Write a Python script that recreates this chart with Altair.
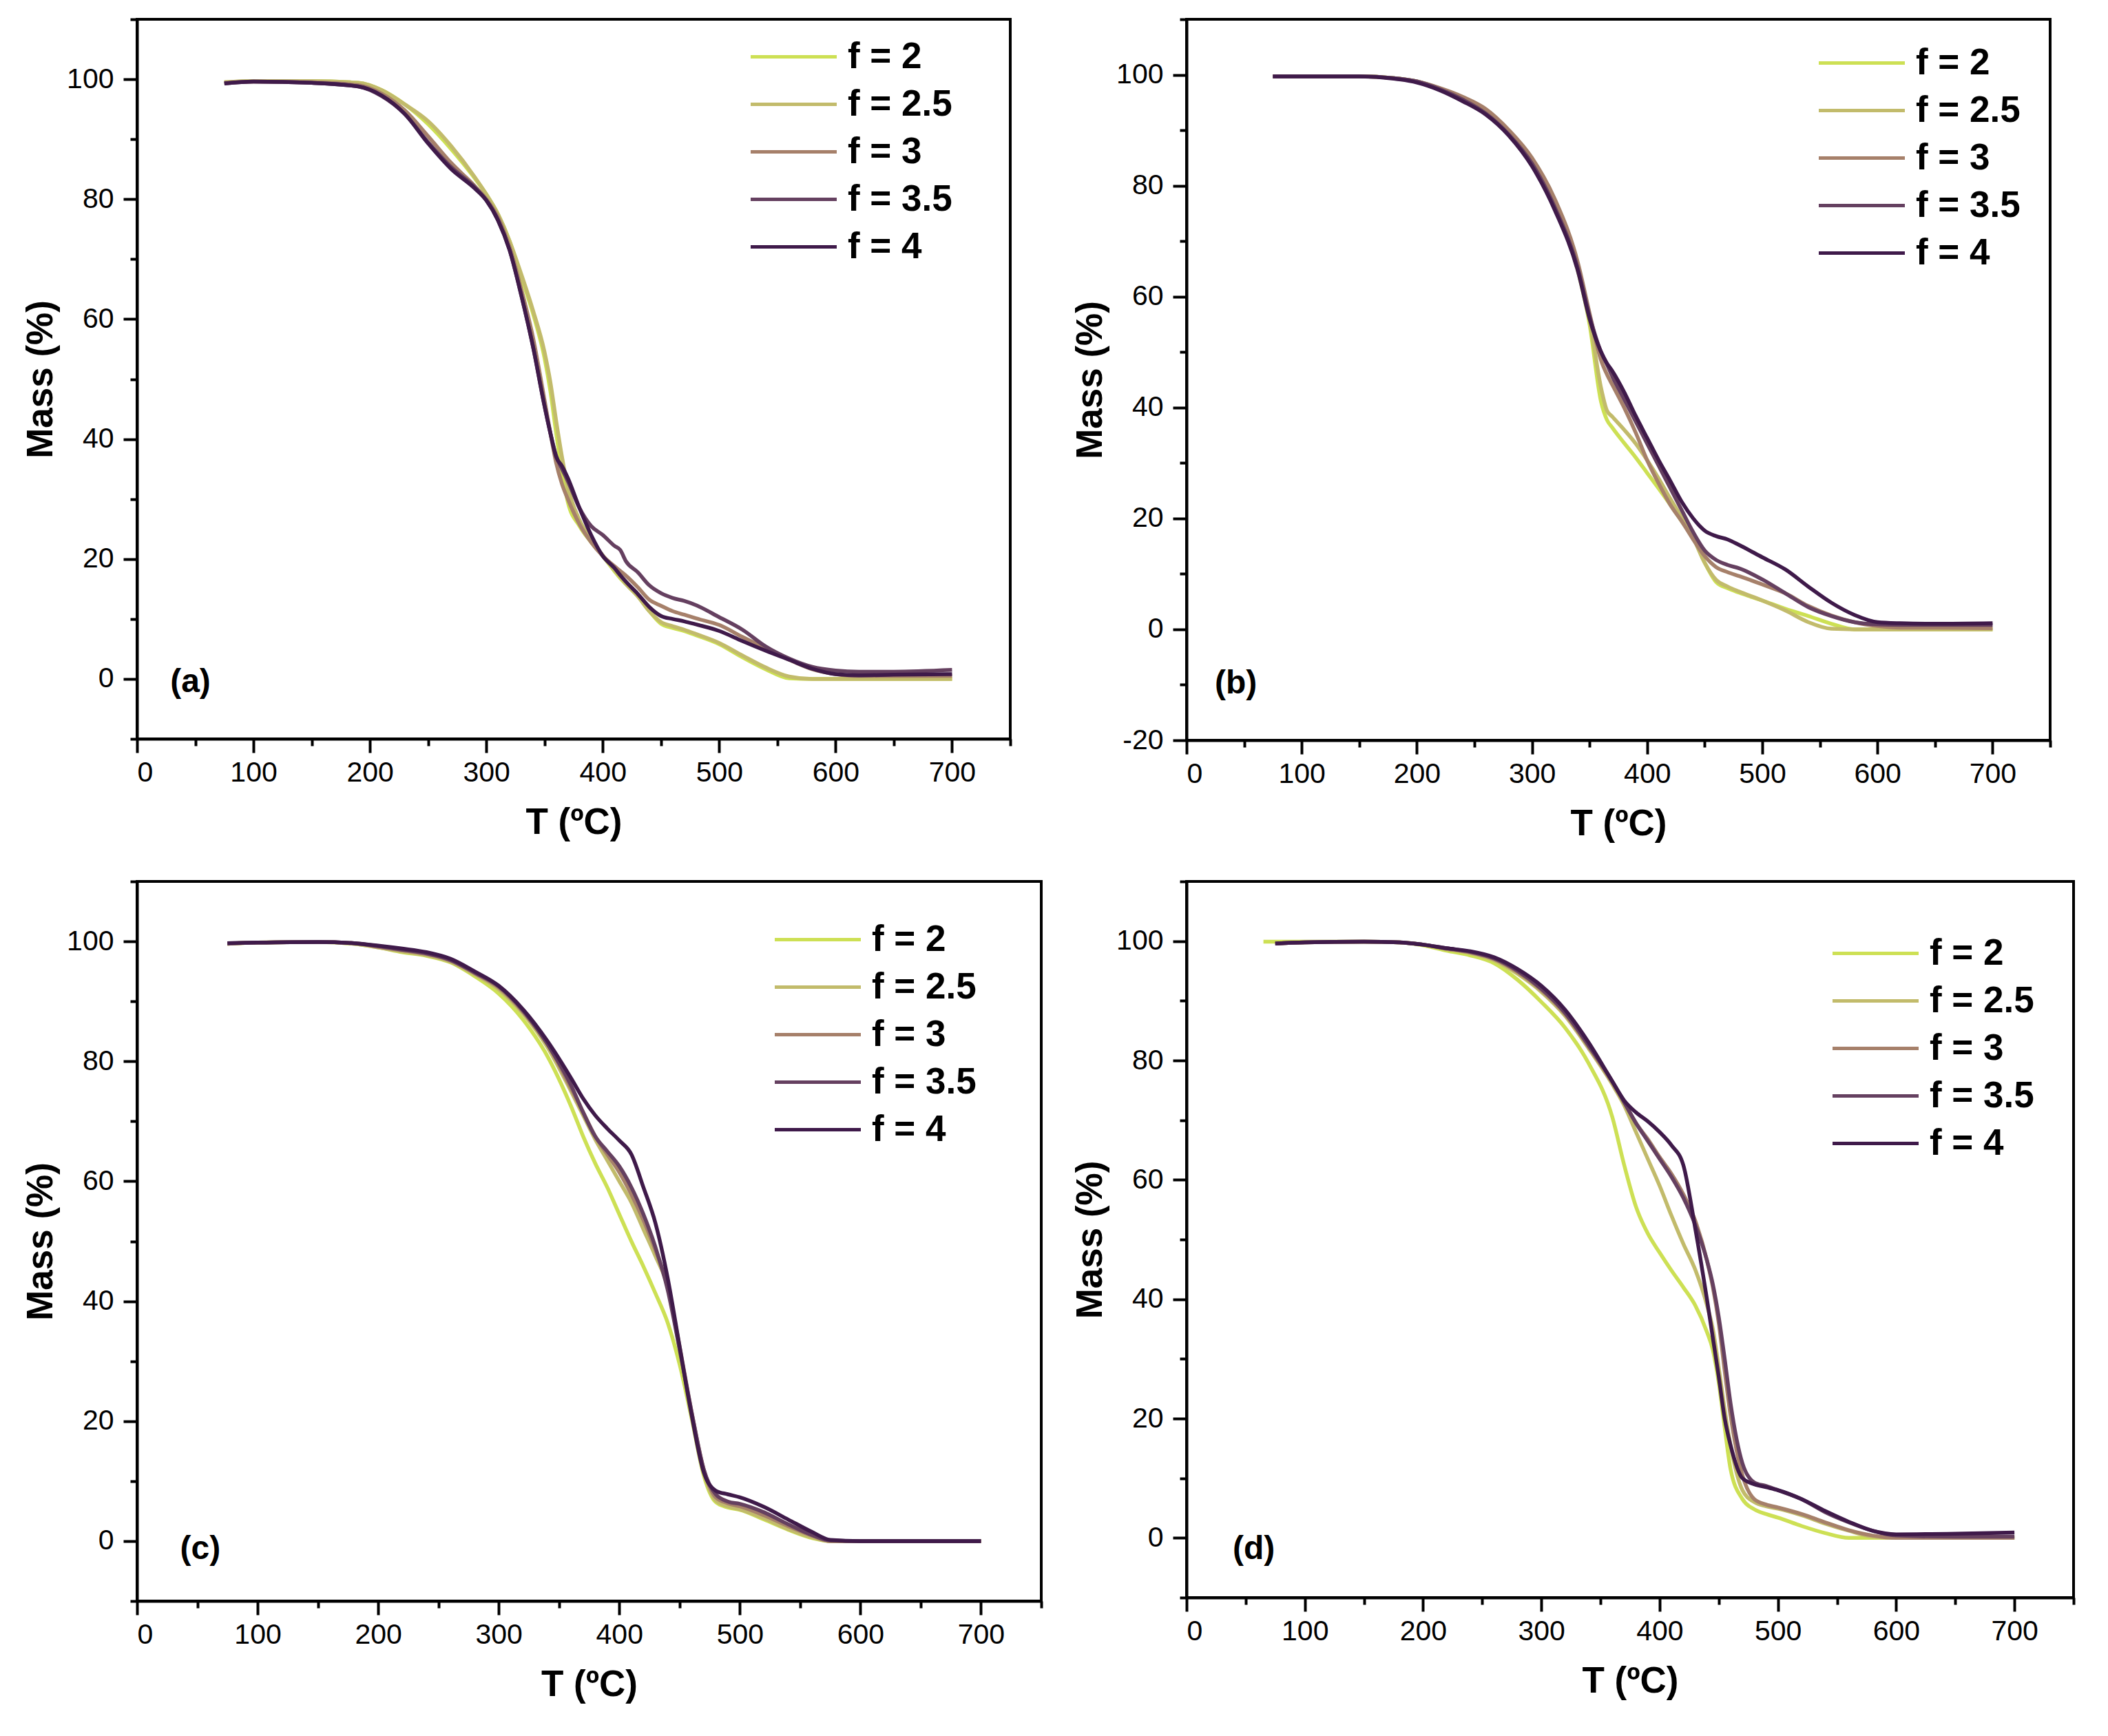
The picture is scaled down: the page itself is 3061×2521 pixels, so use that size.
import altair as alt
import numpy as np
import pandas as pd

# series names and colours (same in every panel)
SERIES = ["f = 2", "f = 2.5", "f = 3", "f = 3.5", "f = 4"]
COLORS = ["#cde054", "#c2bb6b", "#a6806a", "#654060", "#3f1a4a"]
FONT = "Liberation Sans"

# ---- panel (a) ----
T_A = [75, 100, 150, 190, 210, 230, 250, 270, 290, 300, 310, 320, 330, 340, 350, 355, 360, 365, 370,
       380, 390, 400, 410, 415, 420, 430, 440, 450, 460, 470, 480, 500, 520, 540, 560, 580, 600, 620, 650, 700]
A_F2 = [99.5, 99.7, 99.7, 99.4, 98.2, 95.8, 92.5, 88.3, 83.5, 80.8, 77.5, 73.0, 67.0, 61.0, 53.5, 48.0, 41.0, 34.5, 29.5,
        25.5, 22.8, 20.5, 18.0, 16.8, 15.8, 13.8, 11.3, 9.2, 8.5, 8.0, 7.3, 5.8, 3.6, 1.6, 0.1, 0.0, 0.0, 0.0, 0.0, 0.0]
A_F25 = [99.5, 99.7, 99.7, 99.4, 98.2, 95.8, 93.0, 88.8, 83.7, 80.8, 77.5, 73.0, 67.5, 61.5, 54.5, 49.5, 43.0, 37.0, 32.0,
         26.5, 23.2, 20.6, 18.2, 17.0, 15.8, 13.8, 11.3, 9.5, 8.8, 8.2, 7.5, 6.0, 3.9, 1.9, 0.4, 0.0, 0.0, 0.0, 0.0, 0.0]
A_F3 = [99.4, 99.6, 99.5, 99.0, 97.6, 94.8, 90.5, 86.0, 82.2, 80.0, 77.0, 72.0, 65.0, 57.0, 46.5, 41.0, 36.0, 32.5, 30.0,
        25.8, 22.8, 20.5, 18.8, 18.0, 17.2, 15.3, 13.2, 12.2, 11.3, 10.7, 10.1, 9.0, 7.0, 5.1, 3.2, 1.6, 0.8, 0.5, 0.5, 0.5]
A_F35 = [99.3, 99.6, 99.4, 98.8, 97.2, 94.2, 89.5, 85.3, 82.0, 79.8, 76.5, 71.5, 64.0, 55.5, 45.5, 41.0, 37.2, 35.0, 33.0,
         28.5, 25.5, 24.0, 22.2, 21.5, 19.6, 17.8, 15.6, 14.3, 13.5, 13.0, 12.3, 10.3, 8.2, 5.4, 3.4, 2.0, 1.4, 1.2, 1.2, 1.5]
A_F4 = [99.3, 99.6, 99.4, 98.8, 97.3, 94.2, 89.3, 85.0, 81.8, 79.8, 76.5, 71.5, 64.0, 55.5, 45.5, 41.0, 37.0, 35.5, 33.5,
        28.5, 24.0, 20.5, 18.5, 17.3, 16.2, 14.2, 12.0, 10.5, 10.0, 9.6, 9.1, 8.0, 6.3, 4.7, 3.2, 1.7, 0.8, 0.6, 0.7, 0.8]

# ---- panel (b) ----
T_B = [75, 100, 150, 180, 200, 220, 240, 260, 280, 300, 320, 340, 350, 360, 365, 370, 380, 390, 400, 410,
       420, 430, 440, 450, 460, 470, 480, 500, 520, 540, 560, 580, 600, 620, 650, 700]
B_F2 = [99.7, 99.7, 99.7, 99.4, 98.8, 97.5, 95.8, 93.5, 89.5, 84.0, 76.0, 64.5, 55.0, 41.0, 37.8, 36.3, 33.6, 31.0, 28.2, 25.4,
        22.5, 19.5, 16.5, 12.0, 8.5, 7.4, 6.6, 5.2, 3.7, 2.4, 1.0, 0.0, 0.0, 0.0, 0.0, 0.0]
B_F25 = [99.7, 99.7, 99.7, 99.4, 98.8, 97.5, 95.8, 93.5, 89.5, 84.2, 76.3, 65.0, 56.0, 43.5, 39.5, 38.3, 36.0, 33.5, 30.5, 27.2,
         23.6, 20.2, 16.5, 12.0, 8.9, 7.7, 6.8, 5.2, 3.4, 1.3, 0.1, 0.0, 0.0, 0.0, 0.0, 0.0]
B_F3 = [99.7, 99.7, 99.7, 99.4, 98.8, 97.6, 96.0, 93.8, 90.0, 85.0, 77.5, 66.0, 57.0, 48.5, 46.0, 44.0, 40.0, 35.5, 30.5, 26.3,
        22.5, 19.5, 16.2, 13.2, 11.2, 10.3, 9.6, 8.1, 6.5, 4.2, 2.5, 1.3, 0.6, 0.3, 0.3, 0.2]
B_F35 = [99.7, 99.7, 99.7, 99.4, 98.8, 97.4, 95.5, 93.0, 89.2, 84.0, 76.0, 65.0, 56.5, 50.0, 47.8, 45.5, 41.5, 37.5, 33.5, 29.5,
         25.5, 21.5, 17.5, 14.2, 12.5, 11.6, 11.0, 9.0, 6.5, 4.0, 2.4, 1.3, 0.9, 0.8, 0.8, 0.8]
B_F4 = [99.7, 99.7, 99.7, 99.3, 98.6, 97.2, 95.2, 92.8, 89.0, 83.5, 75.5, 64.5, 56.0, 50.0, 48.0, 46.5, 42.8, 38.5, 34.5, 30.5,
        26.8, 23.0, 20.0, 17.8, 16.8, 16.2, 15.2, 13.0, 10.8, 7.7, 4.8, 2.6, 1.3, 1.1, 1.0, 1.1]

# ---- panel (c) ----
T_C = [75, 100, 150, 180, 200, 220, 240, 260, 280, 300, 320, 340, 360, 370, 380, 390, 400, 410, 420, 430,
       440, 450, 460, 470, 480, 490, 500, 520, 540, 560, 575, 600, 650, 700]
C_F2 = [99.6, 99.8, 99.9, 99.6, 99.0, 98.2, 97.6, 96.5, 94.2, 91.3, 87.0, 81.0, 72.5, 67.5, 63.0, 59.0, 54.5, 50.0, 45.8, 41.3,
        36.5, 29.5, 20.5, 11.0, 6.5, 5.6, 5.2, 3.6, 1.9, 0.5, 0.0, 0.0, 0.0, 0.0]
C_F25 = [99.6, 99.8, 99.9, 99.6, 99.0, 98.3, 97.7, 96.6, 94.5, 92.0, 88.0, 82.5, 75.0, 71.0, 67.0, 63.5, 60.0, 56.5, 52.0, 47.5,
         42.5, 32.0, 21.0, 11.5, 6.8, 5.8, 5.3, 3.8, 2.0, 0.6, 0.0, 0.0, 0.0, 0.0]
C_F3 = [99.6, 99.8, 99.9, 99.7, 99.1, 98.5, 97.9, 96.8, 94.7, 92.3, 88.3, 83.0, 75.5, 71.5, 67.5, 64.5, 61.5, 57.8, 53.5, 48.5,
        42.5, 32.5, 21.5, 12.0, 7.3, 6.3, 5.8, 4.3, 2.5, 0.9, 0.0, 0.0, 0.0, 0.0]
C_F35 = [99.7, 99.8, 99.9, 99.7, 99.2, 98.6, 98.0, 96.9, 94.8, 92.5, 88.5, 83.0, 76.0, 71.5, 67.5, 65.0, 62.5, 59.0, 54.5, 49.0,
         42.0, 32.0, 21.5, 12.0, 7.8, 6.6, 6.2, 4.8, 2.8, 1.0, 0.1, 0.0, 0.0, 0.0]
C_F4 = [99.7, 99.8, 99.9, 99.7, 99.3, 98.8, 98.2, 97.1, 95.0, 92.6, 88.7, 83.5, 77.2, 73.8, 71.0, 68.8, 66.8, 64.5, 59.0, 53.0,
        44.0, 32.5, 21.0, 11.5, 8.4, 7.8, 7.3, 5.7, 3.6, 1.5, 0.2, 0.0, 0.0, 0.0]

# ---- panel (d) ----
T_D = [65, 75, 100, 150, 180, 200, 220, 240, 260, 280, 300, 320, 340, 360, 370, 380, 390, 400, 410, 420,
       430, 440, 445, 450, 455, 460, 470, 480, 490, 500, 520, 540, 560, 580, 600, 650, 700]
D_F2 = [99.9, 99.9, 99.9, 99.9, 99.8, 99.3, 98.4, 97.6, 96.3, 93.5, 89.8, 85.5, 79.5, 70.5, 62.5, 55.5, 51.0, 47.8, 44.8, 42.0,
        39.0, 34.5, 31.5, 26.0, 18.5, 11.5, 6.5, 4.8, 4.0, 3.4, 2.0, 0.8, 0.0, 0.0, 0.0, 0.0, 0.0]
D_F25 = [None, 99.6, 99.8, 99.9, 99.8, 99.4, 98.7, 98.0, 96.8, 94.5, 91.5, 87.5, 82.0, 76.0, 72.5, 68.0, 63.5, 59.0, 54.0, 49.3,
         45.0, 39.0, 35.0, 28.5, 21.5, 15.5, 8.0, 6.0, 5.3, 4.9, 3.8, 2.4, 1.2, 0.2, 0.0, 0.0, 0.0]
D_F3 = [None, 99.6, 99.8, 99.9, 99.8, 99.4, 98.7, 98.1, 97.0, 94.8, 91.8, 87.8, 82.3, 76.3, 73.0, 69.5, 66.8, 63.8, 61.0, 57.6,
        53.2, 46.5, 42.0, 36.0, 28.0, 20.5, 10.5, 6.5, 5.6, 5.1, 4.0, 2.6, 1.3, 0.4, 0.0, 0.0, 0.0]
D_F35 = [None, 99.6, 99.8, 99.9, 99.8, 99.4, 98.8, 98.2, 97.1, 95.0, 92.0, 88.0, 82.5, 76.5, 73.0, 69.5, 66.5, 63.5, 60.5, 57.0,
         52.5, 46.5, 42.5, 37.0, 30.0, 22.5, 12.5, 9.3, 8.7, 8.0, 6.5, 4.3, 2.6, 1.2, 0.4, 0.2, 0.2]
D_F4 = [None, 99.6, 99.8, 99.9, 99.8, 99.4, 98.8, 98.3, 97.3, 95.3, 92.5, 88.5, 83.0, 76.5, 73.3, 71.3, 69.8, 68.0, 65.8, 62.5,
        52.0, 40.0, 33.5, 27.0, 20.0, 15.5, 10.0, 9.0, 8.5, 8.0, 6.5, 4.5, 2.7, 1.2, 0.6, 0.7, 0.9]

# panel letters, placed in data units
LABELS = ["(a)", "(b)", "(c)", "(d)"]
LABEL_T = [28.5, 24.5, 35.7, 39]
LABEL_M = [-0.55, -9.8, -1.35, -1.95]

# long flat legend stroke (path is scaled by sqrt(size)/2)
LEG_SYMBOL = "M-2.5,0H2.5"


def panel(T, curves, idx, y_lo, leg_x, leg_y, w, h):
    df = pd.concat(
        [pd.DataFrame({"T": T, "mass": vals, "series": name}) for name, vals in zip(SERIES, curves)]
    ).dropna()

    x_axis = alt.Axis(
        values=list(range(0, 751, 50)),
        labelExpr="datum.value % 100 === 0 && datum.value <= 700 ? datum.label : ''",
        tickSize={"condition": {"test": "datum.value % 100 === 0", "value": 20}, "value": 10},
        labelPadding=9, titlePadding=26,
    )
    y_axis = alt.Axis(
        values=list(range(y_lo, 111, 10)),
        labelExpr="datum.value % 20 === 0 ? replace(datum.label, '\u2212', '-') : ''",
        tickSize={"condition": {"test": "datum.value % 20 === 0", "value": 20}, "value": 10},
        labelPadding=14, titlePadding=10,
    )

    lines = alt.Chart(df).mark_line(strokeWidth=5.5, interpolate="monotone").encode(
        x=alt.X("T:Q", scale=alt.Scale(domain=[0, 750], nice=False), axis=x_axis, title="T (ºC)"),
        y=alt.Y("mass:Q", scale=alt.Scale(domain=[y_lo, 110], nice=False), axis=y_axis, title="Mass (%)"),
        color=alt.Color(
            "series:N",
            scale=alt.Scale(domain=SERIES, range=COLORS),
            sort=SERIES,
            legend=alt.Legend(
                title=None, orient="none", legendX=leg_x, legendY=leg_y,
                symbolType=LEG_SYMBOL, symbolSize=2500, symbolStrokeWidth=5,
                labelFont=FONT, labelFontSize=53, labelFontWeight="bold", labelColor="black",
                labelOffset=51, rowPadding=14,
            ),
        ),
    )

    tag = alt.Chart(
        pd.DataFrame({"T": [LABEL_T[idx]], "mass": [LABEL_M[idx]], "txt": [LABELS[idx]]})
    ).mark_text(align="left", baseline="middle", font=FONT, fontSize=48, fontWeight="bold", color="black").encode(
        x="T:Q", y="mass:Q", text="txt:N"
    )

    return (lines + tag).properties(width=w, height=h)


pa = panel(T_A, [A_F2, A_F25, A_F3, A_F35, A_F4], 0, -10, 926, 27, 1268, 1045)
pb = panel(T_B, [B_F2, B_F25, B_F3, B_F35, B_F4], 1, -20, 953, 36, 1254, 1047)
pc = panel(T_C, [C_F2, C_F25, C_F3, C_F35, C_F4], 2, -10, 961, 57, 1313, 1045)
pd_ = panel(T_D, [D_F2, D_F25, D_F3, D_F35, D_F4], 3, -10, 973, 77, 1288, 1040)

chart = (
    alt.concat(pa, pb, pc, pd_, columns=2, align="none", spacing={"row": 51, "column": 39})
    .resolve_scale(color="independent")
    .resolve_legend(color="independent")
    .properties(padding={"left": 23, "top": 16, "right": 0, "bottom": 0}, background="white")
    .configure_view(stroke="black", strokeWidth=4)
    .configure_axis(
        grid=False,
        domainColor="black", domainWidth=4,
        tickColor="black", tickWidth=4,
        labelFont=FONT, labelFontSize=41, labelColor="black",
        titleFont=FONT, titleFontSize=53, titleFontWeight="bold", titleColor="black",
    )
)

chart.save("out.html", embed_options={"renderer": "svg", "actions": False})
